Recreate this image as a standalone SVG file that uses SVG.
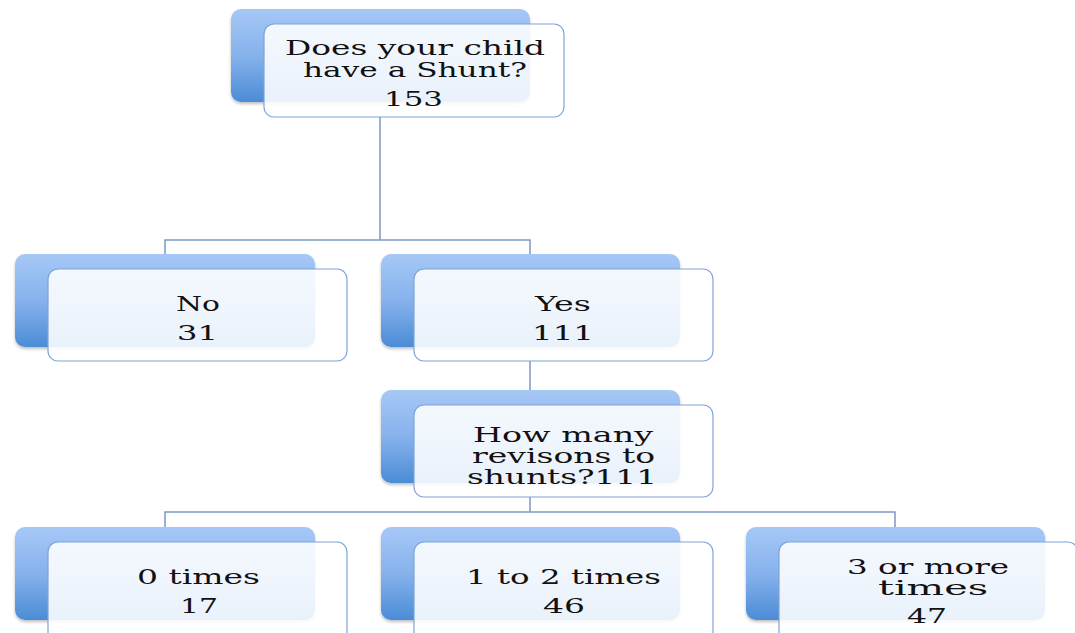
<svg xmlns="http://www.w3.org/2000/svg" width="1075" height="633" viewBox="0 0 1075 633">
<defs>
<linearGradient id="blue" x1="0" y1="0" x2="0" y2="1">
<stop offset="0" stop-color="#a6c8f6"/>
<stop offset="0.5" stop-color="#86b2ec"/>
<stop offset="1" stop-color="#4b8cd6"/>
</linearGradient>
<filter id="sh" x="-10%" y="-10%" width="120%" height="130%">
<feDropShadow dx="0" dy="2" stdDeviation="1.5" flood-color="#000" flood-opacity="0.25"/>
</filter>
</defs>
<style>
.back{fill:url(#blue);filter:url(#sh)}
.front{fill:#ffffff;fill-opacity:0.88;stroke:#7ea3d6;stroke-width:1.2}
.con{fill:none;stroke:#7d99c2;stroke-width:1.5}
text{font-family:"DejaVu Serif","Liberation Serif",serif;font-size:21px;fill:#111;text-anchor:middle}
</style>
<rect width="1075" height="633" fill="#fff"/>
<g id="connectors">
<path class="con" d="M380 117V240M165 255V240H530V255"/>
<path class="con" d="M530 361V390"/>
<path class="con" d="M530 497V512M165 527V512H895V527"/>
</g>
<g id="n-root">
<rect class="back" x="231" y="9" width="299" height="93" rx="10"/>
<rect class="front" x="264" y="24" width="300" height="93" rx="10"/>
<text x="415" y="55" textLength="260" lengthAdjust="spacingAndGlyphs">Does your child</text>
<text x="415" y="77" textLength="224" lengthAdjust="spacingAndGlyphs">have a Shunt?</text>
<text x="413.5" y="106" textLength="59" lengthAdjust="spacingAndGlyphs">153</text>
</g>
<g id="n-no">
<rect class="back" x="15" y="254" width="300" height="93" rx="10"/>
<rect class="front" x="48" y="269" width="299" height="92" rx="10"/>
<text x="198" y="311" textLength="44" lengthAdjust="spacingAndGlyphs">No</text>
<text x="197.5" y="340" textLength="41" lengthAdjust="spacingAndGlyphs">31</text>
</g>
<g id="n-yes">
<rect class="back" x="381" y="254" width="299" height="93" rx="10"/>
<rect class="front" x="414" y="269" width="299" height="92" rx="10"/>
<text x="563" y="311" textLength="56" lengthAdjust="spacingAndGlyphs">Yes</text>
<text x="563" y="340" textLength="62" lengthAdjust="spacingAndGlyphs">111</text>
</g>
<g id="n-rev">
<rect class="back" x="381" y="390" width="299" height="93" rx="10"/>
<rect class="front" x="414" y="405" width="299" height="92" rx="10"/>
<text x="563" y="442" textLength="180" lengthAdjust="spacingAndGlyphs">How many</text>
<text x="563.5" y="463" textLength="183" lengthAdjust="spacingAndGlyphs">revisons to</text>
<text x="562" y="484" textLength="190" lengthAdjust="spacingAndGlyphs">shunts?111</text>
</g>
<g id="n-0">
<rect class="back" x="15" y="527" width="300" height="93" rx="10"/>
<rect class="front" x="48" y="542" width="299" height="100" rx="10"/>
<text x="198.5" y="584" textLength="123" lengthAdjust="spacingAndGlyphs">0 times</text>
<text x="199" y="613" textLength="38" lengthAdjust="spacingAndGlyphs">17</text>
</g>
<g id="n-12">
<rect class="back" x="381" y="527" width="299" height="93" rx="10"/>
<rect class="front" x="414" y="542" width="299" height="100" rx="10"/>
<text x="563.5" y="584" textLength="195" lengthAdjust="spacingAndGlyphs">1 to 2 times</text>
<text x="564" y="613" textLength="42" lengthAdjust="spacingAndGlyphs">46</text>
</g>
<g id="n-3">
<rect class="back" x="746" y="527" width="299" height="93" rx="10"/>
<rect class="front" x="779" y="542" width="299" height="100" rx="10"/>
<text x="928" y="574" textLength="162" lengthAdjust="spacingAndGlyphs">3 or more</text>
<text x="933" y="595" textLength="110" lengthAdjust="spacingAndGlyphs">times</text>
<text x="927" y="623" textLength="40" lengthAdjust="spacingAndGlyphs">47</text>
</g>
</svg>
